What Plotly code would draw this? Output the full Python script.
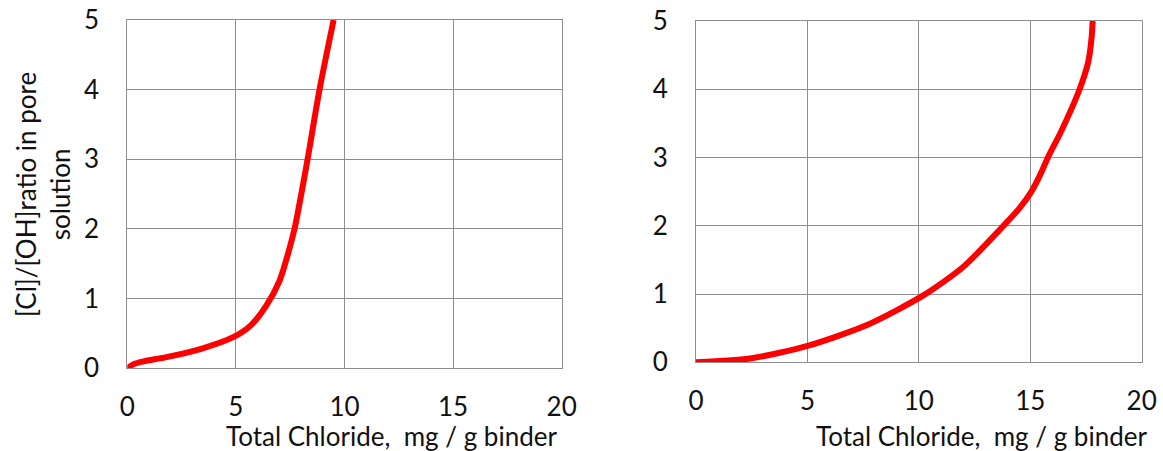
import plotly.graph_objects as go

# Left panel curve
left_x = [0, 0.3, 0.75, 1.8, 3.4, 4.9, 5.7, 6.4, 7.0, 7.45, 7.72, 7.98, 8.3, 8.85, 9.5]
left_y = [0, 0.06, 0.10, 0.16, 0.28, 0.45, 0.62, 0.90, 1.25, 1.70, 2.03, 2.45, 3.0, 4.0, 5.0]

# Right panel curve
right_x = [0, 2.5, 5.0, 7.7, 10.2, 12.0, 13.8, 14.5, 15.05, 15.45, 15.82, 16.35, 17.2, 17.6, 17.75, 17.8]
right_y = [0, 0.06, 0.24, 0.55, 0.98, 1.40, 2.0, 2.25, 2.5, 2.75, 3.02, 3.36, 3.99, 4.4, 4.75, 5.0]

x_ticks = [0, 5, 10, 15, 20]
y_ticks = [0, 1, 2, 3, 4, 5]
x_title = "Total Chloride,  mg / g binder"
y_title = "[Cl]/[OH]ratio in pore<br>solution"

W, H = 1163, 451
FONT = "Lato"
GRID = "#8e8e8e"
RED = "#ff0000"

fig = go.Figure()
fig.add_trace(go.Scatter(x=left_x, y=left_y, mode="lines",
                         line=dict(color=RED, width=6, shape="spline", smoothing=0.8),
                         xaxis="x", yaxis="y", showlegend=False, hoverinfo="skip"))
fig.add_trace(go.Scatter(x=right_x, y=right_y, mode="lines",
                         line=dict(color=RED, width=6, shape="spline", smoothing=0.7),
                         xaxis="x2", yaxis="y2", showlegend=False, hoverinfo="skip"))

def px_x(p):
    return p / W

def px_y(p):
    return 1 - p / H

common_x = dict(range=[0, 20], tickvals=x_ticks, showgrid=True, gridcolor=GRID, gridwidth=1,
                showline=True, linecolor=GRID, linewidth=1, mirror=True, zeroline=False,
                ticks="", tickfont=dict(family=FONT, size=26, color="#111"),
                ticklabelstandoff=15, automargin=False, fixedrange=True)
common_y = dict(range=[0, 5], tickvals=y_ticks, showgrid=True, gridcolor=GRID, gridwidth=1,
                showline=True, linecolor=GRID, linewidth=1, mirror=True, zeroline=False,
                ticks="", tickfont=dict(family=FONT, size=26, color="#111"),
                ticklabelstandoff=22, automargin=False, fixedrange=True)

fig.update_layout(
    width=W, height=H,
    margin=dict(l=0, r=0, t=0, b=0),
    paper_bgcolor="white", plot_bgcolor="white",
    xaxis=dict(domain=[px_x(127.3), px_x(561.7)], anchor="y", **common_x),
    yaxis=dict(domain=[px_y(368.3), px_y(20)], anchor="x", **common_y),
    xaxis2=dict(domain=[px_x(696), px_x(1141.7)], anchor="y2", **common_x),
    yaxis2=dict(domain=[px_y(362.3), px_y(21)], anchor="x2", **common_y),
    annotations=[
        dict(text=x_title, x=px_x(391.5), y=px_y(436), xref="paper", yref="paper",
             xanchor="center", yanchor="middle", showarrow=False,
             font=dict(family=FONT, size=26, color="#111")),
        dict(text=x_title, x=px_x(981.5), y=px_y(436), xref="paper", yref="paper",
             xanchor="center", yanchor="middle", showarrow=False,
             font=dict(family=FONT, size=26, color="#111")),
        dict(text=y_title, x=px_x(43), y=px_y(195), xref="paper", yref="paper",
             xanchor="center", yanchor="middle", showarrow=False, textangle=-90,
             font=dict(family=FONT, size=26, color="#111")),
    ],
)

fig.write_html("out.html")
